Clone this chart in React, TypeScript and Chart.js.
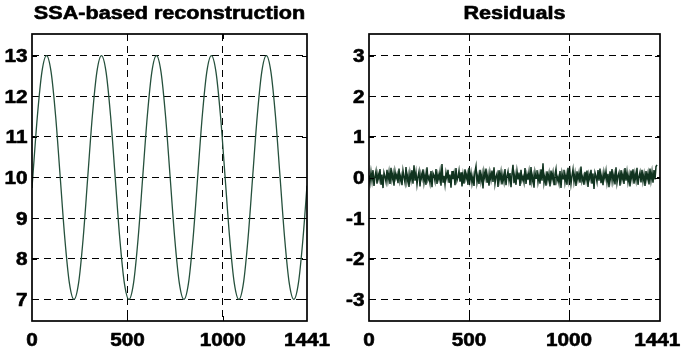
import React, { useEffect, useRef } from "react";
import { Chart, registerables } from "chart.js";

Chart.register(...registerables);

// ---- Data ----
const reconTitle = "SSA-based reconstruction";
const residTitle = "Residuals";

const reconX = [
  0, 4, 28, 52, 76, 100, 124, 148, 172, 196, 220, 244, 268,
  292, 316, 340, 364, 388, 412, 436, 460, 484, 508, 532, 556,
  580, 604, 628, 652, 676, 700, 724, 748, 772, 796, 820, 844,
  868, 892, 916, 940, 964, 988, 1012, 1036, 1060, 1084, 1108, 1132,
  1156, 1180, 1204, 1228, 1252, 1276, 1300, 1324, 1348, 1372, 1396, 1420, 1441,
];
const reconY = [
  9.74, 10, 11.5, 12.6, 13, 12.6, 11.5, 10, 8.5, 7.4, 7, 7.4, 8.5,
  10, 11.5, 12.6, 13, 12.6, 11.5, 10, 8.5, 7.4, 7, 7.4, 8.5,
  10, 11.5, 12.6, 13, 12.6, 11.5, 10, 8.5, 7.4, 7, 7.4, 8.5,
  10, 11.5, 12.6, 13, 12.6, 11.5, 10, 8.5, 7.4, 7, 7.4, 8.5,
  10, 11.5, 12.6, 13, 12.6, 11.5, 10, 8.5, 7.4, 7, 7.4, 8.5, 9.8,
];

// residuals sampled every 5th time step (t = 0, 5, 10, ...)
const residStep = 5;
const residY = [
  0.05, -0.12, 0.14, -0.08, 0.18, -0.21, 0.03, 0.16, -0.15, 0.09,
  -0.04, 0.21, -0.18, 0.07, -0.26, 0.12, 0.02, -0.11, 0.19, -0.07,
  0.13, -0.16, 0.24, -0.05, 0.10, -0.20, 0.15, -0.02, 0.08, -0.14,
  0.22, -0.09, 0.04, -0.19, 0.17, 0.01, -0.13, 0.26, -0.10, 0.06,
  -0.23, 0.11, -0.06, 0.18, -0.15, 0.30, -0.08, 0.12, -0.17, 0.03,
  0.15, -0.22, 0.09, -0.03, 0.20, -0.12, 0.07, -0.18, 0.25, -0.06,
  0.02, -0.14, 0.16, -0.24, 0.11, 0.05, -0.09, 0.21, -0.16, 0.08,
  -0.05, 0.14, -0.20, 0.33, -0.11, 0.04, -0.17, 0.12, -0.02, 0.19,
  -0.13, 0.07, -0.25, 0.16, -0.04, 0.10, -0.19, 0.23, -0.08, 0.01,
  0.17, -0.10, 0.13, -0.22, 0.06, -0.15, 0.20, -0.03, 0.09, -0.18,
  0.24, -0.07, 0.11, -0.14, 0.03, -0.21, 0.15, 0.28, -0.12, 0.05,
  -0.16, 0.19, -0.09, 0.08, -0.27, 0.14, -0.01, 0.22, -0.13, 0.06,
  -0.20, 0.12, -0.05, 0.17, -0.11, 0.25, -0.15, 0.02, 0.10, -0.23,
  0.18, -0.06, 0.13, -0.17, 0.07, -0.10, 0.21, -0.19, 0.04, 0.15,
  -0.08, 0.11, -0.24, 0.09, 0.31, -0.14, 0.06, -0.18, 0.16, -0.03,
  0.12, -0.21, 0.19, -0.07, 0.02, -0.12, 0.23, -0.16, 0.08, -0.05,
  0.14, -0.19, 0.26, -0.10, 0.05, -0.25, 0.13, -0.02, 0.18, -0.11,
  0.07, -0.15, 0.20, -0.08, 0.35, -0.13, 0.03, -0.20, 0.15, -0.06,
  0.10, -0.22, 0.17, -0.04, 0.12, -0.17, 0.08, 0.21, -0.09, 0.01,
  -0.14, 0.16, -0.26, 0.11, -0.03, 0.19, -0.12, 0.06, -0.18, 0.24,
  -0.07, 0.13, -0.16, 0.04, 0.20, -0.10, 0.09, -0.21, 0.15, -0.05,
  0.11, -0.13, 0.27, -0.09, 0.02, -0.18, 0.14, -0.06, 0.17, -0.23,
  0.08, -0.04, 0.19, -0.15, 0.10, -0.28, 0.12, 0.03, -0.11, 0.18,
  -0.08, 0.22, -0.14, 0.05, -0.19, 0.13, -0.02, 0.16, -0.12, 0.09,
  -0.24, 0.15, -0.06, 0.21, -0.10, 0.07, -0.17, 0.25, -0.13, 0.04,
  0.12, -0.20, 0.18, -0.05, 0.09, -0.16, 0.23, -0.08, 0.14, -0.11,
  0.06, -0.22, 0.17, -0.03, 0.20, -0.15, 0.10, -0.07, 0.24, -0.18,
  0.02, 0.13, -0.12, 0.19, -0.09, 0.08, -0.21, 0.16, -0.04, 0.11,
  -0.17, 0.22, -0.07, 0.14, -0.13, 0.18, -0.05, 0.27, 0.31,
];
const residX = residY.map((_, i) => i * residStep);

const xTickLabels = [0, 500, 1000, 1441];
const xGridValues = [500, 1000];
const reconYTicks = [7, 8, 9, 10, 11, 12, 13];
const residYTicks = [-3, -2, -1, 0, 1, 2, 3];

const FONT = 'bold 18px "Liberation Sans", Arial, Helvetica, sans-serif';

type PanelProps = {
  title: string;
  xs: number[];
  ys: number[];
  xMax: number;
  yMin: number;
  yMax: number;
  yTicks: number[];
  left: number;
  width: number;
  padLeft: number;
  padRight: number;
  color: string;
  lineWidth: number;
  smooth: boolean;
};

function boldText(ctx: CanvasRenderingContext2D, text: string) {
  ctx.fillText(text, 0, 0);
  ctx.strokeText(text, 0, 0);
}

function Panel(p: PanelProps) {
  const ref = useRef<HTMLCanvasElement>(null);
  useEffect(() => {
    const canvas = ref.current;
    if (!canvas) return;
    const pts = p.xs.map((x, i) => ({ x, y: p.ys[i] }));

    const decor = {
      id: "panelDecor",
      afterDraw(chart: any) {
        const { ctx, chartArea: a, scales } = chart;
        const sx = scales.x;
        const sy = scales.y;
        ctx.save();
        ctx.setLineDash([]);
        ctx.strokeStyle = "#000";
        // ticks inside
        ctx.lineWidth = 1;
        ctx.beginPath();
        p.yTicks.forEach((v) => {
          const y = Math.round(sy.getPixelForValue(v)) + 0.5;
          ctx.moveTo(a.left, y);
          ctx.lineTo(a.left + 5, y);
          ctx.moveTo(a.right, y);
          ctx.lineTo(a.right - 5, y);
        });
        xGridValues.forEach((v) => {
          const x = Math.round(sx.getPixelForValue(v)) + 0.5;
          ctx.moveTo(x, a.top);
          ctx.lineTo(x, a.top + 5);
          ctx.moveTo(x, a.bottom);
          ctx.lineTo(x, a.bottom - 5);
        });
        ctx.stroke();
        // box
        ctx.lineWidth = 1.7;
        ctx.strokeRect(a.left, a.top, a.right - a.left, a.bottom - a.top);

        // text
        ctx.fillStyle = "#000";
        ctx.strokeStyle = "#000";
        ctx.lineWidth = 0.6;
        ctx.lineJoin = "round";
        ctx.font = FONT;
        ctx.textAlign = "center";
        ctx.textBaseline = "alphabetic";
        ctx.save();
        ctx.translate((a.left + a.right) / 2, 19);
        ctx.scale(1.2, 1);
        boldText(ctx, p.title);
        ctx.restore();

        // y tick labels
        ctx.textAlign = "right";
        p.yTicks.forEach((v) => {
          const y = sy.getPixelForValue(v);
          ctx.save();
          ctx.translate(a.left - 4.5, y + 6.5);
          ctx.scale(1.15, 1);
          boldText(ctx, String(v));
          ctx.restore();
        });
        // x tick labels
        ctx.textAlign = "center";
        xTickLabels.forEach((v) => {
          const x = sx.getPixelForValue(v);
          ctx.save();
          ctx.translate(x, 346);
          ctx.scale(1.15, 1);
          boldText(ctx, String(v));
          ctx.restore();
        });
        ctx.restore();
      },
    };

    const chart = new Chart(canvas, {
      type: "line",
      data: {
        datasets: [
          {
            data: pts,
            borderColor: p.color,
            borderWidth: p.lineWidth,
            pointRadius: 0,
            fill: false,
            tension: 0,
            cubicInterpolationMode: p.smooth ? "monotone" : "default",
          } as any,
        ],
      },
      options: {
        responsive: false,
        animation: false,
        events: [],
        layout: { padding: { left: p.padLeft, right: p.padRight, top: 34, bottom: 34 } },
        plugins: {
          legend: { display: false },
          tooltip: { enabled: false },
          title: { display: false },
        },
        scales: {
          x: {
            type: "linear",
            min: 0,
            max: p.xMax,
            afterFit: (s: any) => {
              s.height = 0;
            },
            afterBuildTicks: (s: any) => {
              s.ticks = xGridValues.map((v) => ({ value: v }));
            },
            ticks: { display: false },
            grid: { drawTicks: false, color: "#000", lineWidth: 1 },
            border: { display: false, dash: [7, 5] },
          },
          y: {
            type: "linear",
            min: p.yMin,
            max: p.yMax,
            afterFit: (s: any) => {
              s.width = 0;
            },
            afterBuildTicks: (s: any) => {
              s.ticks = p.yTicks.map((v) => ({ value: v }));
            },
            ticks: { display: false },
            grid: { drawTicks: false, color: "#000", lineWidth: 1 },
            border: { display: false, dash: [7, 5] },
          },
        },
      } as any,
      plugins: [decor],
    });
    return () => chart.destroy();
  }, []);

  return (
    <canvas
      ref={ref}
      width={p.width}
      height={355}
      style={{ position: "absolute", left: p.left, top: 0, width: p.width, height: 355 }}
    />
  );
}

export default function App() {
  return (
    <div
      style={{
        position: "fixed",
        left: 0,
        top: 0,
        width: 682,
        height: 355,
        background: "#fff",
        overflow: "hidden",
      }}
    >
      <Panel
        title={reconTitle}
        xs={reconX}
        ys={reconY}
        xMax={1441}
        yMin={6.47}
        yMax={13.53}
        yTicks={reconYTicks}
        left={0}
        width={341}
        padLeft={32}
        padRight={34}
        color="#25503c"
        lineWidth={1.3}
        smooth={true}
      />
      <Panel
        title={residTitle}
        xs={residX}
        ys={residY}
        xMax={1455}
        yMin={-3.53}
        yMax={3.53}
        yTicks={residYTicks}
        left={341}
        width={341}
        padLeft={28}
        padRight={22}
        color="#10331f"
        lineWidth={1.5}
        smooth={false}
      />
    </div>
  );
}
